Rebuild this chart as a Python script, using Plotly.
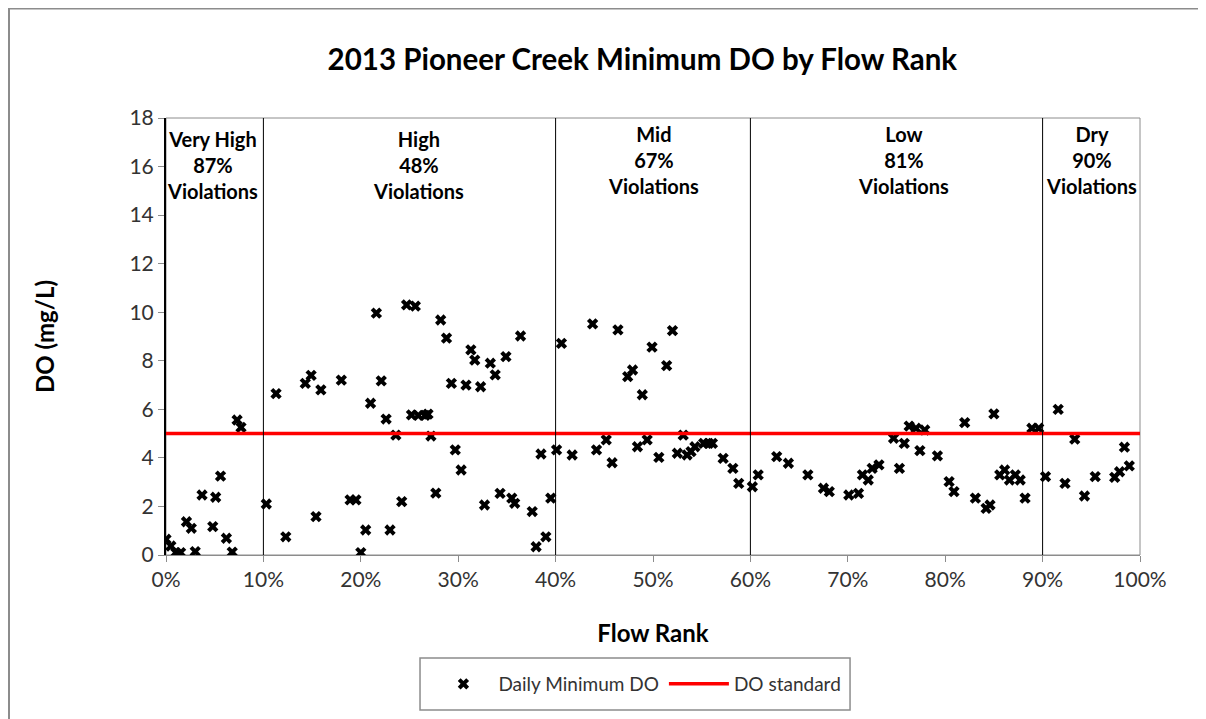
import plotly.graph_objects as go

# flow rank (percent) and daily minimum DO (mg/L)
flow_rank_pct = [
    0.0, 0.5, 1.0, 1.5, 2.1, 2.6, 3.0, 3.7, 4.8, 5.1, 5.6, 6.2, 6.8, 7.3, 7.7,
    10.3, 11.3, 12.3, 14.3, 14.9, 15.4, 15.9, 18.0, 18.9, 19.5,
    20.0, 20.5, 21.0, 21.6, 22.1, 22.6, 23.0, 23.6, 24.2, 24.7,
    25.2, 25.6, 25.9, 26.6, 26.9, 27.2, 27.7, 28.2, 28.8, 29.3,
    29.7, 30.3, 30.8, 31.3, 31.7, 32.3, 32.7, 33.3, 33.8, 34.3,
    34.9, 35.5, 35.8, 36.4, 37.6, 38.0, 38.5, 39.0, 39.5,
    40.1, 40.6, 41.7, 43.8, 44.2, 45.2, 45.8, 46.4, 47.4, 47.9,
    48.4, 48.9, 49.4, 49.9, 50.6, 51.4, 52.0, 52.5, 53.1, 53.5,
    53.9, 54.3, 55.2, 55.7, 56.1, 57.2, 58.2, 58.8,
    60.2, 60.8, 62.7, 63.9, 65.9, 67.5, 68.1, 70.1, 71.1, 71.5,
    72.1, 72.5, 73.2, 74.7, 75.3, 75.8, 76.3, 77.0, 77.4, 77.9,
    79.2, 80.4, 80.9, 82.0, 83.1, 84.2, 84.6, 85.0, 85.6, 86.1,
    86.6, 87.2, 87.7, 88.2, 88.9, 89.6,
    90.3, 91.6, 92.3, 93.3, 94.3, 95.4, 97.4, 97.9, 98.4, 98.9,
]
daily_min_do = [
    0.65, 0.37, 0.1, 0.1, 1.37, 1.1, 0.14, 2.47, 1.17, 2.38, 3.25, 0.69, 0.12, 5.56, 5.26,
    2.1, 6.65, 0.75, 7.07, 7.4, 1.58, 6.8, 7.2, 2.27, 2.27,
    0.1, 1.03, 6.25, 9.96, 7.17, 5.6, 1.03, 4.94, 2.2, 10.3,
    5.77, 10.25, 5.75, 5.75, 5.8, 4.9, 2.55, 9.68, 8.93, 7.07,
    4.33, 3.5, 7.0, 8.45, 8.03, 6.93, 2.06, 7.9, 7.42, 2.54,
    8.17, 2.34, 2.13, 9.02, 1.79, 0.34, 4.16, 0.75, 2.34,
    4.33, 8.72, 4.12, 9.52, 4.33, 4.74, 3.8, 9.27, 7.35, 7.62,
    4.46, 6.6, 4.74, 8.56, 4.02, 7.8, 9.24, 4.19, 4.94, 4.12,
    4.26, 4.46, 4.6, 4.6, 4.6, 3.98, 3.57, 2.95,
    2.81, 3.3, 4.05, 3.78, 3.3, 2.75, 2.61, 2.47, 2.54, 3.3,
    3.09, 3.57, 3.71, 4.81, 3.57, 4.6, 5.31, 5.22, 4.3, 5.15,
    4.08, 3.02, 2.61, 5.45, 2.34, 1.92, 2.06, 5.81, 3.3, 3.5,
    3.09, 3.3, 3.09, 2.34, 5.22, 5.22,
    3.23, 6.0, 2.95, 4.77, 2.43, 3.23, 3.2, 3.43, 4.44, 3.67,
]

do_standard = 5
region_bounds = [0.1, 0.4, 0.6, 0.9]
region_names = ["Very High", "High", "Mid", "Low", "Dry"]
region_violations = ["87%", "48%", "67%", "81%", "90%"]
region_label_x = [0.048, 0.259, 0.50, 0.757, 0.95]

FONT = "Lato"
GREY = "#8c8c8c"


def build_figure():
    fig = go.Figure()

    fig.add_trace(go.Scatter(
        x=[p / 100 for p in flow_rank_pct], y=daily_min_do, mode="markers",
        name="Daily Minimum DO",
        marker=dict(symbol="x", size=10, color="black", line=dict(width=0)),
    ))
    fig.add_trace(go.Scatter(
        x=[0, 1], y=[do_standard, do_standard], mode="lines",
        name="DO standard", line=dict(color="#ff0000", width=3.5),
    ))

    # plot area border and flow regime dividers
    fig.add_shape(type="rect", xref="paper", yref="paper", x0=0, x1=1, y0=0, y1=1,
                  line=dict(color=GREY, width=1), layer="below")
    for b in region_bounds:
        fig.add_shape(type="line", xref="x", yref="y", x0=b, x1=b, y0=0, y1=18,
                      line=dict(color="black", width=1))
    # outer chart frame (left + top edge of the figure)
    fig.add_shape(type="rect", xref="paper", yref="paper",
                  x0=-0.1612, x1=1.2, y0=-0.5, y1=1.2506,
                  line=dict(color=GREY, width=2), layer="below")
    # legend box
    fig.add_shape(type="rect", xref="paper", yref="paper",
                  x0=0.2608, x1=0.7023, y0=-0.3547, y1=-0.2357,
                  line=dict(color=GREY, width=1.5), layer="below")

    for i, name in enumerate(region_names):
        ytop = 0.985 if i < 2 else 0.995
        fig.add_annotation(
            x=region_label_x[i], y=ytop, xref="x", yref="paper", yanchor="top",
            text="<b>%s<br>%s<br>Violations</b>" % (name, region_violations[i]),
            showarrow=False, font=dict(family=FONT, size=20, color="black"),
        )

    # the page body offsets the figure by 8px, margins are set for that
    fig.update_layout(
        width=1198, height=711,
        margin=dict(l=158, r=66, t=110, b=164),
        paper_bgcolor="white", plot_bgcolor="white",
        font=dict(family=FONT, color="black"),
        title=dict(text="<b>2013 Pioneer Creek Minimum DO by Flow Rank</b>",
                   x=0.5295, xanchor="center", y=0.927, yanchor="middle",
                   font=dict(family=FONT, size=29.5, color="black")),
        showlegend=True,
        legend=dict(orientation="h", x=0.484, xanchor="center", y=-0.2952, yanchor="middle",
                    borderwidth=0, itemwidth=60, bgcolor="rgba(0,0,0,0)",
                    font=dict(family=FONT, size=19, color="#333")),
    )
    fig.update_xaxes(
        range=[0, 1], tickvals=[i / 10 for i in range(11)], tickformat=".0%",
        showgrid=False, zeroline=False, showline=True, linecolor=GREY,
        ticks="outside", tickcolor=GREY, ticklen=6,
        tickfont=dict(family=FONT, size=21, color="#333"),
        title=dict(text="<b>Flow Rank</b>", standoff=34, font=dict(family=FONT, size=24)),
    )
    fig.update_yaxes(
        range=[0, 18], dtick=2,
        showgrid=False, zeroline=False, showline=True, linecolor="black", linewidth=2,
        ticks="outside", tickcolor=GREY, ticklen=6,
        tickfont=dict(family=FONT, size=21, color="#333"),
        title=dict(text="<b>DO (mg/L)</b>", standoff=68, font=dict(family=FONT, size=24)),
    )
    return fig


if __name__ == "__main__":
    fig = build_figure()
    fig.write_html("out.html")
